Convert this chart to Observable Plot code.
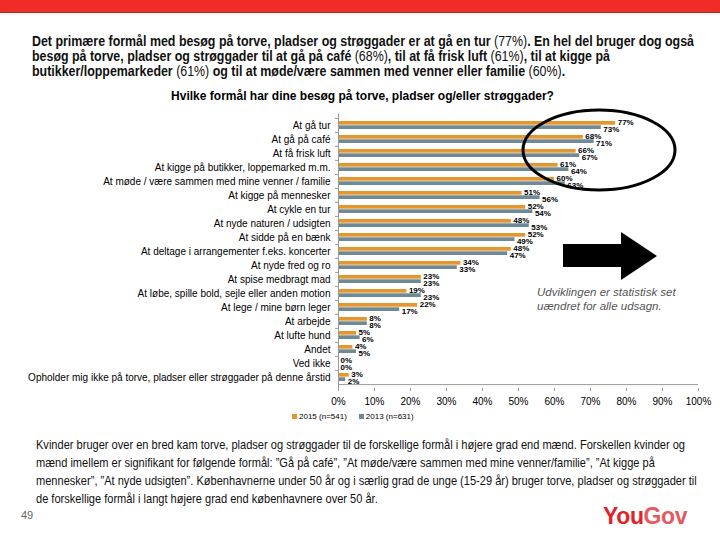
<!DOCTYPE html>
<html>
<head>
<meta charset="utf-8">
<script src="https://cdn.jsdelivr.net/npm/d3@7"></script>
<script src="https://cdn.jsdelivr.net/npm/@observablehq/plot@0.6"></script>
<style>
  body { margin: 0; background: #fff; }
  #page { position: relative; width: 720px; height: 540px; overflow: hidden; background: #fff; font-family: "Liberation Sans", Arial, sans-serif; }
  .abs { position: absolute; white-space: nowrap; }
  #topbar { left: 0; top: 0; width: 720px; height: 12px; background: #EF2D26; border-bottom: 1px solid #6a4a48; box-shadow: 0 1px 2px rgba(240,140,120,0.35); }
  #header { left: 32px; top: 34px; font-weight: bold; font-size: 14px; line-height: 15px; color: #111; transform-origin: 0 0; }
  #header span { font-weight: normal; }
  #ctitle { left: 0; width: 725px; text-align: center; top: 89px; font-weight: bold; font-size: 12px; color: #000; }
  #chart { left: 0; top: 100px; }
  #note { left: 537px; top: 285px; font-style: italic; font-size: 11.5px; line-height: 14px; color: #555; }
  #legend { left: 292px; top: 412px; font-size: 8px; color: #000; }
  #legend i { display: inline-block; width: 5px; height: 5px; margin-right: 2px; vertical-align: 0px; }
  #bottom { left: 36px; top: 436px; font-size: 13px; line-height: 18px; color: #111; transform-origin: 0 0; }
  #pnum { left: 21px; top: 509px; font-size: 11px; color: #666; }
  #logo { left: 603px; top: 503px; font-size: 23px; font-weight: bold; letter-spacing: -0.4px; }
</style>
</head>
<body>
<div id="page">
  <div id="topbar" class="abs"></div>
  <div id="header" class="abs"><span id="h1" style="font-weight:bold">Det primære formål med besøg på torve, pladser og strøggader er at gå en tur <span>(77%)</span>. En hel del bruger dog også</span><br>besøg på torve, pladser og strøggader til at gå på café <span>(68%)</span>, til at få frisk luft <span>(61%)</span>, til at kigge på<br>butikker/loppemarkeder <span>(61%)</span> og til at møde/være sammen med venner eller familie <span>(60%)</span>.</div>
  <div id="ctitle" class="abs">Hvilke formål har dine besøg på torve, pladser og/eller strøggader?</div>
  <div id="chart" class="abs"></div>
  <svg class="abs" style="left:0;top:0" width="720" height="540">
    <ellipse cx="599" cy="150" rx="76" ry="40" fill="none" stroke="#000" stroke-width="3"/>
    <polygon points="563,244 621,244 621,232 657,256 621,280 621,267 563,267" fill="#000"/>
  </svg>
  <div id="note" class="abs">Udviklingen er statistisk set<br>uændret for alle udsagn.</div>
  <div id="legend" class="abs"></div>
  <div id="bottom" class="abs"><span id="b1">Kvinder bruger over en bred kam torve, pladser og strøggader til de forskellige formål i højere grad end mænd. Forskellen kvinder og</span><br>mænd imellem er signifikant for følgende formål: ”Gå på café”, ”At møde/være sammen med mine venner/familie”, ”At kigge på<br>mennesker”, ”At nyde udsigten”. Københavnerne under 50 år og i særlig grad de unge (15-29 år) bruger torve, pladser og strøggader til<br>de forskellige formål i langt højere grad end københavnere over 50 år.</div>
  <div id="pnum" class="abs">49</div>
  <div id="logo" class="abs"><span style="color:#E1232B">You</span><span style="color:#E35B5F">Gov</span></div>
</div>
<script>
const categories = [
  "At gå tur",
  "At gå på café",
  "At få frisk luft",
  "At kigge på butikker, loppemarked m.m.",
  "At møde / være sammen med mine venner / familie",
  "At kigge på mennesker",
  "At cykle en tur",
  "At nyde naturen / udsigten",
  "At sidde på en bænk",
  "At deltage i arrangementer f.eks. koncerter",
  "At nyde fred og ro",
  "At spise medbragt mad",
  "At løbe, spille bold, sejle eller anden motion",
  "At lege / mine børn leger",
  "At arbejde",
  "At lufte hund",
  "Andet",
  "Ved ikke",
  "Opholder mig ikke på torve, pladser eller strøggader på denne årstid"
];
const values2015 = [77, 68, 66, 61, 60, 51, 52, 48, 52, 48, 34, 23, 19, 22, 8, 5, 4, 0, 3];
const values2013 = [73, 71, 67, 64, 63, 56, 54, 53, 49, 47, 33, 23, 23, 17, 8, 6, 5, 0, 2];
const seriesNames = ["2015 (n=541)", "2013 (n=631)"];
const xTicks = [0, 10, 20, 30, 40, 50, 60, 70, 80, 90, 100];

const colors = ["#E8962B", "#6C8A97"];
const rows = categories.map((c, i) => ({category: c, v2015: values2015[i], v2013: values2013[i]}));

const chart = Plot.plot({
  width: 720,
  height: 310,
  marginLeft: 338,
  marginRight: 22,
  marginTop: 13.5,
  marginBottom: 22,
  style: {fontFamily: '"Liberation Sans", Arial, sans-serif', fontSize: "10px", color: "#000", background: "transparent"},
  x: {domain: [0, 100], label: null},
  y: {domain: categories, paddingInner: 0.4, paddingOuter: 0.33, label: null},
  marks: [
    Plot.barX(rows, {x: "v2015", y: "category", fill: colors[0], insetBottom: 4.3}),
    Plot.barX(rows, {x: "v2013", y: "category", fill: colors[1], insetTop: 4.3}),
    Plot.text(rows, {x: "v2015", y: "category", text: d => d.v2015 + "%", dx: 2, dy: -3, textAnchor: "start", fontSize: 8, fontWeight: "bold", fill: "#000"}),
    Plot.text(rows, {x: "v2013", y: "category", text: d => d.v2013 + "%", dx: 2, dy: 4, textAnchor: "start", fontSize: 8, fontWeight: "bold", fill: "#000"}),
    Plot.axisY({tickSize: 0, tickPadding: 8, fontSize: 10, label: null}),
    Plot.axisY({tickSize: 3, text: null, dy: -7.1, stroke: "#999", label: null}),
    Plot.axisX({ticks: xTicks, tickFormat: d => d + "%", tickSize: 3, tickPadding: 6, stroke: "#999", fontSize: 10, color: "#000", label: null}),
    Plot.ruleX([0], {stroke: "#999"}),
    Plot.ruleY([0], {y: () => categories[categories.length - 1], dy: 7.1, stroke: "#999"})
  ]
});
document.getElementById("chart").appendChild(chart);

const legend = document.getElementById("legend");
legend.innerHTML = seriesNames.map((s, i) =>
  `<span style="margin-right:12px"><i style="background:${colors[i]}"></i>${s}</span>`).join("");

function fit(elId, lineId, target) {
  const el = document.getElementById(elId);
  const w = document.getElementById(lineId).getBoundingClientRect().width;
  if (w > 0) el.style.transform = `scaleX(${target / w})`;
}
fit("header", "h1", 662);
fit("bottom", "b1", 649);
</script>
</body>
</html>
